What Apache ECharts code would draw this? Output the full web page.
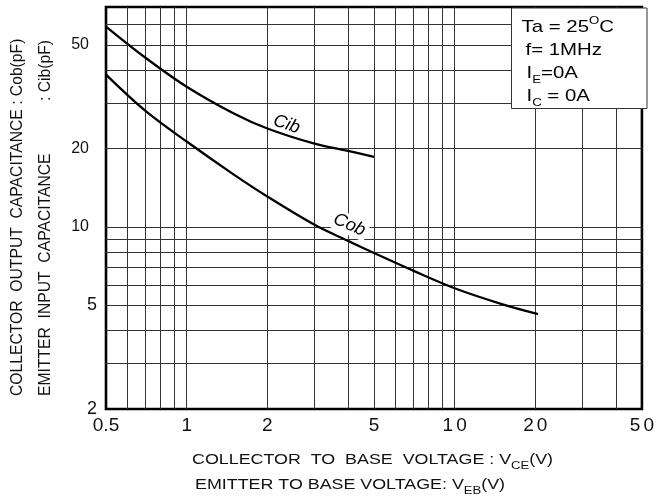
<!DOCTYPE html>
<html>
	<head>
		<meta charset="utf-8" />
		<title>Cob / Cib</title>
		<script src="https://cdn.jsdelivr.net/npm/echarts@6/dist/echarts.min.js"></script>
		<style>
			html, body { margin: 0; padding: 0; background: #fff; }
			#chart { width: 657px; height: 501px; }
		</style>
	</head>
	<body>
		<div id="chart"></div>
	<script type="text/javascript">
		// 数据
		var cibV = [0.5, 0.7, 1, 1.5, 2, 3, 4, 5];
		var cibC = [58.9, 44.8, 34.6, 27.3, 23.9, 20.9, 19.6, 18.6];
		var cobV = [0.5, 0.7, 1, 1.5, 2, 3, 4, 5, 7, 10, 15, 20.5];
		var cobC = [38.5, 28.0, 21.3, 15.9, 13.1, 10.2, 8.85, 7.95, 6.8, 5.82, 5.06, 4.63];

		// 网格线和刻度
		var xGrid = [0.6, 0.7, 0.8, 0.9, 1, 2, 3, 4, 5, 6, 7, 8, 9, 10, 20, 30, 40];
		var yGrid = [3, 4, 5, 6, 7, 8, 9, 10, 20, 30, 40, 50, 60];
		var xTickVals = [0.5, 1, 2, 5, 10, 20, 50];
		var xTickText = ['{d|0.5}', '{d|1}', '{d|2}', '{d|5}', '{d|1}{g|0}', '{d|2}{g|0}', '{d|5}{g|0}'];
		var yTickVals = [2, 5, 10, 20, 50];
		var yTickText = ['{b|2}', '{b|5}', '{s|10}', '{s|20}', '{s|50}'];

		var FONT = 'Liberation Sans';

		function pick(vals, texts, v) {
			for (var i = 0; i < vals.length; i++) {
				if (Math.abs(vals[i] - v) < vals[i] * 1e-6) return texts[i];
			}
			return '';
		}
		function pairs(xs, ys) {
			return xs.map(function (x, i) { return [x, ys[i]]; });
		}

		var myChart = echarts.init(document.getElementById('chart'), null, { renderer: 'canvas' });

		var option = {
			backgroundColor: '#fff',
			animation: false,
			grid: {
				left: 106, right: 9, top: 7, bottom: 92,
				show: true,
				borderColor: '#000',
				borderWidth: 2.6,
				backgroundColor: 'transparent'
			},
			xAxis: {
				type: 'log',
				logBase: 10,
				min: 0.5,
				max: 50,
				axisLine: { show: false },
				axisTick: { show: false, customValues: xGrid },
				splitLine: { show: true, lineStyle: { color: '#333', width: 1 } },
				axisLabel: {
					customValues: xTickVals,
					formatter: function (v) { return pick(xTickVals, xTickText, v); },
					margin: 7,
					rich: {
						d: { fontFamily: FONT, fontSize: 19, color: '#111' },
						g: { fontFamily: FONT, fontSize: 19, color: '#111', padding: [0, 0, 0, 3] }
					}
				}
			},
			yAxis: {
				type: 'log',
				logBase: 10,
				min: 2,
				max: 70,
				axisLine: { show: false },
				axisTick: { show: false, customValues: yGrid },
				splitLine: { show: true, lineStyle: { color: '#333', width: 1 } },
				axisLabel: {
					customValues: yTickVals,
					formatter: function (v) { return pick(yTickVals, yTickText, v); },
					margin: 9,
					rich: {
						b: { fontFamily: FONT, fontSize: 18, color: '#111' },
						s: { fontFamily: FONT, fontSize: 16, color: '#111', padding: [0, 8, 0, 0] }
					}
				}
			},
			series: [
				{
					name: 'Cib',
					type: 'line',
					data: pairs(cibV, cibC),
					smooth: 0.35,
					showSymbol: false,
					lineStyle: { color: '#000', width: 2.3 },
					markPoint: {
						symbol: 'circle',
						symbolSize: 1,
						itemStyle: { color: 'transparent' },
						label: {
							show: true, position: 'inside', formatter: 'Cib',
							fontFamily: FONT, fontStyle: 'italic', fontSize: 18, color: '#000',
							rotate: -19
						},
						data: [{ coord: [2.36, 24.8] }]
					}
				},
				{
					name: 'Cob',
					type: 'line',
					data: pairs(cobV, cobC),
					smooth: 0.35,
					showSymbol: false,
					lineStyle: { color: '#000', width: 2.3 },
					markPoint: {
						symbol: 'circle',
						symbolSize: 1,
						itemStyle: { color: 'transparent' },
						label: {
							show: true, position: 'inside', formatter: 'Cob',
							fontFamily: FONT, fontStyle: 'italic', fontSize: 18, color: '#000',
							rotate: -24,
							backgroundColor: '#fff',
							padding: [1, 3]
						},
						data: [{ coord: [4.05, 10.2] }]
					}
				}
			],
			graphic: [
				// 条件框
				{
					type: 'rect', z: 100,
					shape: { x: 511.5, y: 8, width: 135.5, height: 100.5 },
					style: { fill: '#fff', stroke: '#333', lineWidth: 1 }
				},
				{
					type: 'text', z: 101, x: 521.5, y: 27, scaleX: 1.2,
					style: {
						text: '{a|Ta = 25}{s|O}{a|C}',
						verticalAlign: 'middle', align: 'left',
						rich: {
							a: { fontFamily: FONT, fontSize: 17, lineHeight: 24, fill: '#000' },
							s: { fontFamily: FONT, fontSize: 11, lineHeight: 12, verticalAlign: 'top', fill: '#000' }
						}
					}
				},
				{
					type: 'text', z: 101, x: 525.5, y: 50, scaleX: 1.2,
					style: {
						text: 'f= 1MHz', fontFamily: FONT, fontSize: 17,
						verticalAlign: 'middle', align: 'left', fill: '#000'
					}
				},
				{
					type: 'text', z: 101, x: 526.5, y: 73, scaleX: 1.2,
					style: {
						text: '{a|I}{s|E}{a|=0A}',
						verticalAlign: 'middle', align: 'left',
						rich: {
							a: { fontFamily: FONT, fontSize: 17, lineHeight: 24, fill: '#000' },
							s: { fontFamily: FONT, fontSize: 11, lineHeight: 22, verticalAlign: 'bottom', fill: '#000' }
						}
					}
				},
				{
					type: 'text', z: 101, x: 526.5, y: 96, scaleX: 1.2,
					style: {
						text: '{a|I}{s|C}{a| = 0A}',
						verticalAlign: 'middle', align: 'left',
						rich: {
							a: { fontFamily: FONT, fontSize: 17, lineHeight: 24, fill: '#000' },
							s: { fontFamily: FONT, fontSize: 11, lineHeight: 22, verticalAlign: 'bottom', fill: '#000' }
						}
					}
				},
				// x 轴标题
				{
					type: 'text', z: 101, x: 192, y: 460, scaleX: 1.19,
					style: {
						text: '{a|COLLECTOR  TO  BASE  VOLTAGE : V}{s|CE}{a|(V)}',
						verticalAlign: 'middle', align: 'left',
						rich: {
							a: { fontFamily: FONT, fontSize: 15, lineHeight: 22, fill: '#111' },
							s: { fontFamily: FONT, fontSize: 11, lineHeight: 14, verticalAlign: 'bottom', fill: '#111' }
						}
					}
				},
				{
					type: 'text', z: 101, x: 195, y: 485, scaleX: 1.19,
					style: {
						text: '{a|EMITTER TO BASE VOLTAGE: V}{s|EB}{a|(V)}',
						verticalAlign: 'middle', align: 'left',
						rich: {
							a: { fontFamily: FONT, fontSize: 15, lineHeight: 22, fill: '#111' },
							s: { fontFamily: FONT, fontSize: 11, lineHeight: 14, verticalAlign: 'bottom', fill: '#111' }
						}
					}
				},
				// y 轴标题
				{
					type: 'text', z: 101, x: 18, y: 396, rotation: Math.PI / 2,
					style: {
						text: 'COLLECTOR  OUTPUT  CAPACITANCE : Cob(pF)', fontFamily: FONT, fontSize: 15.7,
						verticalAlign: 'middle', align: 'left', fill: '#111'
					}
				},
				{
					type: 'text', z: 101, x: 46, y: 396, rotation: Math.PI / 2,
					style: {
						text: 'EMITTER  INPUT  CAPACITANCE', fontFamily: FONT, fontSize: 15.7,
						verticalAlign: 'middle', align: 'left', fill: '#111'
					}
				},
				{
					type: 'text', z: 101, x: 46, y: 40, rotation: Math.PI / 2,
					style: {
						text: ': Cib(pF)', fontFamily: FONT, fontSize: 15.7,
						verticalAlign: 'middle', align: 'right', fill: '#111'
					}
				}
			]
		};

		myChart.setOption(option);
	</script>
	</body>
</html>
